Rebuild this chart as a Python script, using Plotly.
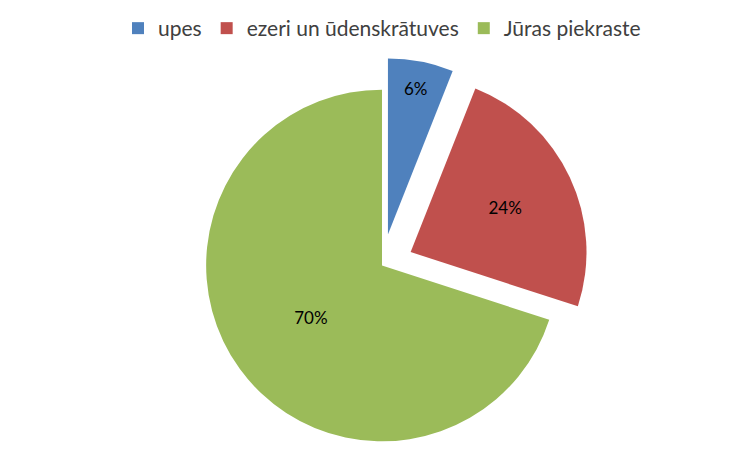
import plotly.graph_objects as go

categories = ["upes", "ezeri un ūdenskrātuves", "Jūras piekraste"]
values = [6, 24, 70]
colors = ["#4F81BD", "#C0504D", "#9BBB59"]
pulls = [0.18, 0.18, 0]

fig = go.Figure(go.Pie(
    labels=categories,
    values=values,
    sort=False,
    direction="clockwise",
    rotation=0,
    pull=pulls,
    marker=dict(colors=colors, line=dict(color="white", width=0)),
    textinfo="percent",
    texttemplate="%{percent:.0%}",
    textposition="inside",
    insidetextorientation="horizontal",
    textfont=dict(family="Lato, Open Sans, sans-serif", size=17, color="#000000"),
    hoverinfo="label+percent",
))

fig.update_layout(
    width=748, height=471,
    paper_bgcolor="white",
    plot_bgcolor="white",
    margin=dict(l=10, r=10, t=50, b=6),
    showlegend=True,
    legend=dict(
        orientation="h",
        x=0.5, xanchor="center",
        yref="container",
        y=1.0, yanchor="top",
        font=dict(family="Lato, Open Sans, sans-serif", size=21, color="#404040"),
        itemwidth=30,
    ),
)

fig.write_html("out.html")
